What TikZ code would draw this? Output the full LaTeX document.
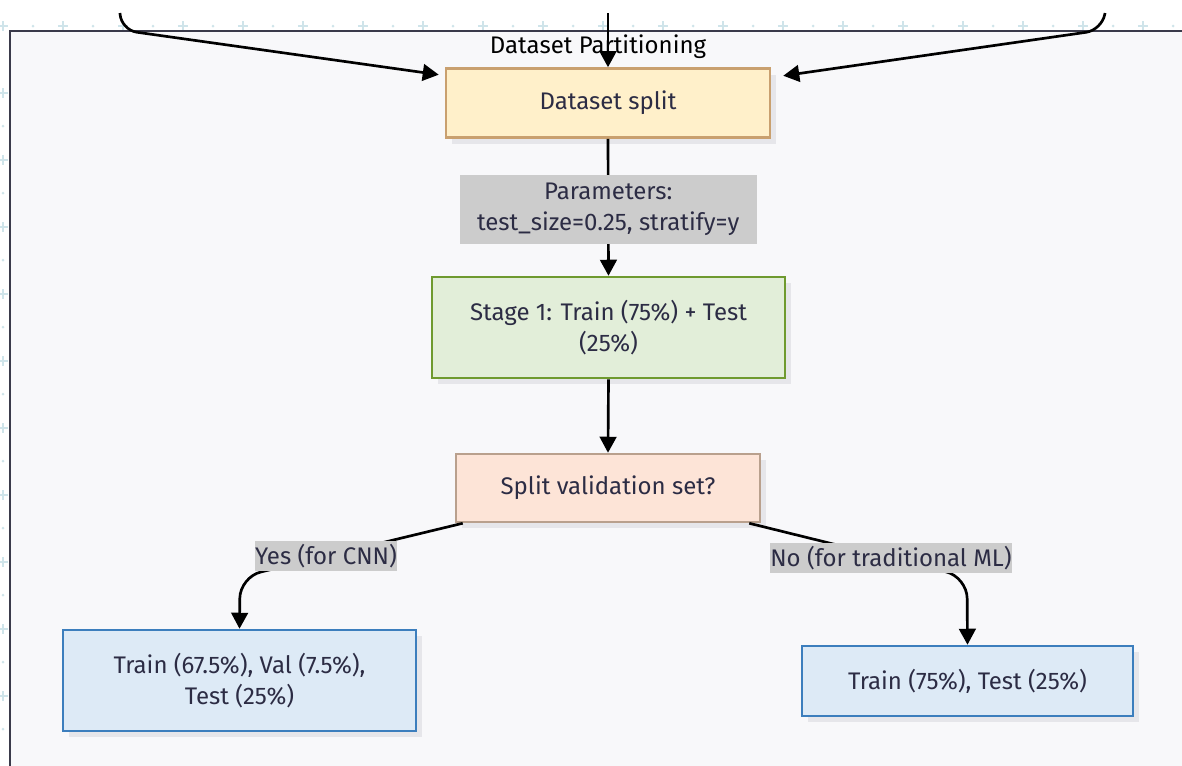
\documentclass[tikz,border=0pt]{standalone}
\usepackage{fontspec}
\setmainfont{Fira Sans}
\usetikzlibrary{arrows.meta,shadows}

\definecolor{clusterfill}{HTML}{F8F8FA}
\definecolor{clusterline}{HTML}{3A3A4A}
\definecolor{gridmark}{HTML}{CFE4EA}
\definecolor{inktext}{HTML}{2C2C44}
\definecolor{splitfill}{HTML}{FFF0CA}
\definecolor{splitline}{HTML}{C9A06F}
\definecolor{stagefill}{HTML}{E2EED9}
\definecolor{stageline}{HTML}{6F9A2F}
\definecolor{askfill}{HTML}{FDE4D7}
\definecolor{askline}{HTML}{B9A08D}
\definecolor{resfill}{HTML}{DDEAF6}
\definecolor{resline}{HTML}{3C7EBD}
\definecolor{tagfill}{HTML}{CCCCCC}
\definecolor{shadowgray}{HTML}{E6E6EA}

\tikzset{
  box/.style={draw, line width=1.9pt, inner sep=0pt, align=center,
    text=inktext, font=\fontsize{18}{23.5}\selectfont,
    general shadow={fill=shadowgray, shadow xshift=4.5pt, shadow yshift=-4.5pt}},
  tag/.style={fill=tagfill, inner xsep=0pt, inner ysep=2pt, align=center, text=inktext,
    font=\fontsize{18}{23.5}\selectfont},
  flow/.style={line width=2pt, draw=black,
    -{Triangle[length=12pt, width=12.5pt]}},
  gridplus/.style={draw=gridmark, line width=1.1pt},
}

\begin{document}
\begin{tikzpicture}[x=0.75pt, y=-0.75pt]
\useasboundingbox (0,0) rectangle (1182,765);
\clip (0,0) rectangle (1182,765);

% faint canvas grid outside the group frame
\foreach \gx in {3,63,...,1203} {
  \draw[gridplus] (\gx-5,26) -- (\gx+5,26) (\gx,21) -- (\gx,31);
  \fill[gridmark] (\gx+30,26) circle (1.5);
}
\foreach \gy in {93,160,...,760} {
  \draw[gridplus] (-2,\gy) -- (8,\gy) (3,\gy-5) -- (3,\gy+5);
  \fill[gridmark] (3,\gy+33) circle (1.5);
}

% group frame
\draw[fill=clusterfill, draw=clusterline, line width=1.6pt] (10,31) rectangle (1200,790);
\node[text=black, font=\fontsize{18}{23.5}\selectfont] (title) at (598,47) {Dataset Partitioning};

% nodes
\node[box, fill=splitfill, draw=splitline, minimum width={324*0.75pt}, minimum height={69*0.75pt}]
  (split) at (608,103) {Dataset split};
\node[box, fill=stagefill, draw=stageline, minimum width={353*0.75pt}, minimum height={101*0.75pt}]
  (stage) at (608.5,327.5) {Stage 1: Train (75\%) + Test\\(25\%)};
\node[box, fill=askfill, draw=askline, minimum width={304*0.75pt}, minimum height={68*0.75pt}]
  (ask) at (608,488) {Split validation set?};
\node[box, fill=resfill, draw=resline, minimum width={353*0.75pt}, minimum height={101*0.75pt}]
  (cnn) at (239.5,680.5) {Train (67.5\%), Val (7.5\%),\\Test (25\%)};
\node[box, fill=resfill, draw=resline, minimum width={331*0.75pt}, minimum height={70*0.75pt}]
  (ml) at (967.5,681) {Train (75\%), Test (25\%)};

% incoming links from above the frame
\coordinate (inL) at (120,13);
\coordinate (inM) at (608,13);
\coordinate (inR) at (1105,13);
\draw[flow, rounded corners=12pt] (inL) -- (121,30) -- ([xshift=-4.5pt,yshift=-5.6pt]split.north west);
\draw[flow] (inM) -- (split.north);
\draw[flow, rounded corners=12pt] (inR) -- (1102,30) -- ([xshift=9pt,yshift=-6.4pt]split.north east);

% main chain
\draw[flow] (split.south) -- (stage.north)
  node[tag, midway, yshift=-1.5pt, inner xsep=13pt, inner ysep=6pt] (params)
  {Parameters:\\test\_size=0.25, stratify=y};
\draw[flow] (stage.south) -- (ask.north);

% branches
\draw[flow, rounded corners=16pt] ([xshift=6pt]ask.south west) -- (240,577) -- (cnn.north);
\node[tag] (yes) at (326,556) {Yes (for CNN)};
\draw[flow, rounded corners=16pt] ([xshift=-9pt]ask.south east) -- (967,577) -- (ml.north);
\node[tag] (no) at (891,558) {No (for traditional ML)};
\end{tikzpicture}
\end{document}
